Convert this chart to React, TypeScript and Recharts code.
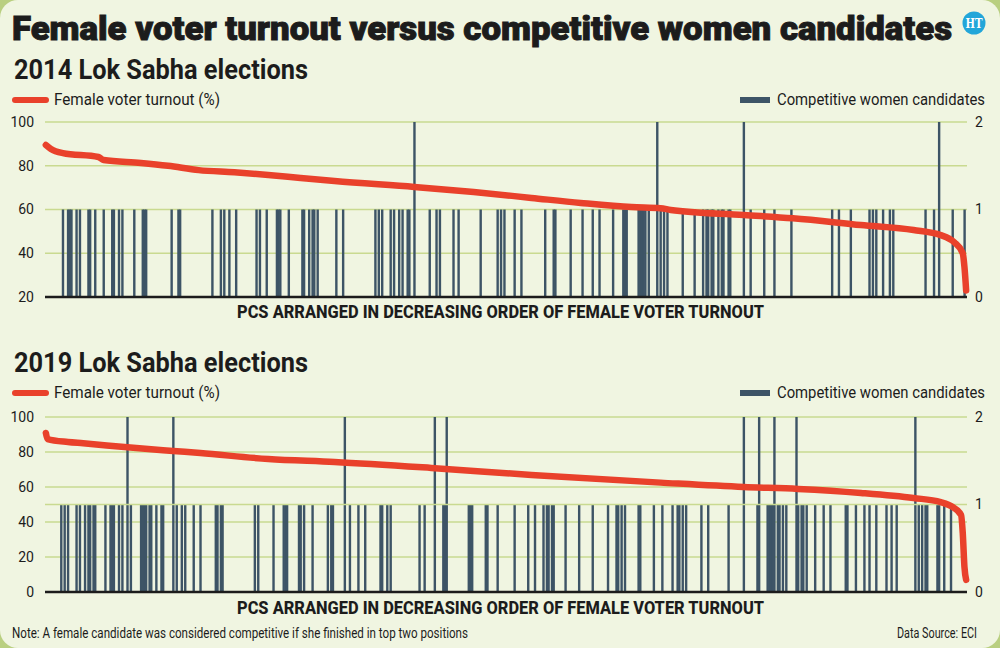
import { ComposedChart, Bar, Line, XAxis, YAxis, CartesianGrid, ReferenceLine } from 'recharts'

// Parliamentary constituencies, ranked 1..N by female voter turnout (highest first)
const PC_COUNT = 543

// 2014: turnout readings at ranked PCs
const TURNOUT_2014_PC = [1, 4, 11, 32, 35, 57, 73, 91, 112, 132, 151, 171, 218, 253, 287, 316, 346, 363, 369, 412, 441, 481, 512, 528, 536, 541, 542, 543]
const TURNOUT_2014 = [89.5, 87.7, 85.8, 84, 82.6, 81.3, 80, 78, 77, 75.8, 74.4, 73, 70.3, 68, 65.3, 63, 61.1, 60.6, 59.8, 57.5, 56, 52.9, 50.6, 48.3, 45, 40, 33.7, 23]

// 2014: PCs with one / two competitive women candidates
const WOMEN_2014_ONE = [
	11, 14, 15, 16, 19, 21, 26, 27, 30, 35, 40, 41, 44, 46, 53, 58, 59, 60, 75, 79, 80, 99, 104, 106, 109, 113, 125, 127, 131,
	137, 138, 139, 144, 152, 153, 156, 158, 159, 161, 172, 176, 195, 197, 199, 204, 206, 209, 211, 214, 215, 227, 231, 233,
	241, 244, 257, 267, 269, 271, 277, 281, 295, 300, 301, 310, 317, 323, 327, 335, 341, 342, 343, 350, 351, 352, 353, 354,
	356, 363, 365, 367, 376, 383, 388, 390, 391, 393, 394, 397, 399, 400, 403, 404, 416, 424, 430, 440, 464, 468, 475, 486,
	488, 490, 494, 498, 500, 519, 524, 535, 542,
]
const WOMEN_2014_TWO = [218, 361, 412, 527]

// 2019: turnout readings at ranked PCs
const TURNOUT_2019_PC = [1, 2, 14, 23, 49, 76, 92, 132, 171, 228, 287, 363, 412, 444, 481, 512, 528, 535, 540, 541, 542, 543]
const TURNOUT_2019 = [90.9, 87.4, 85.7, 85, 82.7, 80.6, 79.4, 76, 74.3, 70.9, 66.9, 62.5, 60, 58.9, 56.6, 53.7, 51.4, 48.6, 44, 33.7, 14.3, 6.9]

// 2019: PCs with one / two competitive women candidates
const WOMEN_2019_ONE = [
	10, 12, 14, 19, 21, 24, 26, 27, 29, 30, 36, 39, 40, 41, 44, 46, 51, 57, 58, 59, 60, 62, 63, 66, 69, 70, 78, 81, 83, 88,
	92, 101, 102, 104, 105, 124, 126, 135, 141, 142, 143, 150, 151, 153, 158, 167, 169, 170, 180, 185, 189, 198, 199, 202,
	204, 221, 224, 235, 236, 250, 251, 252, 260, 261, 267, 277, 285, 289, 294, 296, 297, 299, 300, 307, 315, 323, 332, 337,
	338, 340, 342, 350, 351, 359, 364, 370, 373, 374, 376, 378, 387, 391, 403, 420, 426, 427, 428, 429, 432, 433, 435, 437,
	444, 446, 447, 449, 454, 459, 463, 472, 473, 478, 483, 486, 490, 496, 499, 502, 515, 517, 519, 520, 526, 527, 530, 534,
]
const WOMEN_2019_TWO = [49, 76, 177, 230, 237, 412, 421, 430, 443, 513]

const LEFT_TICKS_2014 = [20, 40, 60, 80, 100]
const LEFT_TICKS_2019 = [0, 20, 40, 60, 80, 100]
const RIGHT_TICKS = [0, 1, 2]

const AXIS_TITLE = 'PCS ARRANGED IN DECREASING ORDER OF FEMALE VOTER TURNOUT'

const RED = '#e9412b'
const SLATE = '#3d5466'
const GRID = '#c9da90'
const INK = '#1c1c1c'
const FONT = 'Roboto, "Open Sans", sans-serif'

type Row = { pc: number; turnout?: number; women?: number }

function buildRows(turnoutPc: number[], turnout: number[], one: number[], two: number[]) {
	const rows: Row[] = []
	for (let pc = 1; pc <= PC_COUNT; pc++) rows.push({ pc })
	turnoutPc.forEach((pc, i) => {
		rows[pc - 1].turnout = turnout[i]
	})
	one.forEach(pc => {
		rows[pc - 1].women = 1
	})
	two.forEach(pc => {
		rows[pc - 1].women = 2
	})
	return rows
}

const rows2014 = buildRows(TURNOUT_2014_PC, TURNOUT_2014, WOMEN_2014_ONE, WOMEN_2014_TWO)
const rows2019 = buildRows(TURNOUT_2019_PC, TURNOUT_2019, WOMEN_2019_ONE, WOMEN_2019_TWO)

// bands are under 2px wide, so draw each bar a touch wider than its band
function ThinBar(props: any) {
	const { x, y, width, height, fill } = props
	if (!height) return null
	return <rect x={x + width / 2 - 1.2} y={y} width={2.4} height={height} fill={fill} />
}

interface PanelProps {
	rows: Row[]
	top: number
	leftMin: number
	leftTicks: number[]
	midLine?: boolean
}

function Panel({ rows, top, leftMin, leftTicks, midLine }: PanelProps) {
	const tick = { fontSize: 14, fill: INK, fontFamily: FONT }
	return (
		<div style={{ position: 'absolute', left: 0, top }}>
			<ComposedChart
				width={1000}
				height={195}
				data={rows}
				margin={{ top: 10, right: 0, left: 0, bottom: 10 }}
				barCategoryGap={0}
			>
				<CartesianGrid yAxisId='left' vertical={false} stroke={GRID} strokeWidth={1.5} />
				<XAxis dataKey='pc' hide />
				<YAxis
					yAxisId='left'
					domain={[leftMin, 100]}
					ticks={leftTicks}
					width={45}
					axisLine={false}
					tickLine={false}
					tickMargin={5}
					tick={tick}
					interval={0}
				/>
				<YAxis
					yAxisId='right'
					orientation='right'
					domain={[0, 2]}
					ticks={RIGHT_TICKS}
					width={33}
					axisLine={false}
					tickLine={false}
					tick={tick}
					interval={0}
				/>
				{midLine && <ReferenceLine yAxisId='right' y={1} stroke={GRID} strokeWidth={1.5} />}
				<Bar yAxisId='right' dataKey='women' fill={SLATE} shape={ThinBar} isAnimationActive={false} />
				<ReferenceLine yAxisId='left' y={leftMin} stroke={INK} strokeWidth={2.5} />
				<Line
					yAxisId='left'
					type='monotone'
					dataKey='turnout'
					stroke={RED}
					strokeWidth={6.5}
					strokeLinecap='round'
					strokeLinejoin='round'
					dot={false}
					activeDot={false}
					connectNulls
					isAnimationActive={false}
				/>
			</ComposedChart>
		</div>
	)
}

// condensed text, squeezed to the given width
function Txt({ x, y, w, size, weight = 400, anchor = 'start', bold = 0, children }: {
	x: number
	y: number
	w: number
	size: number
	weight?: number
	anchor?: 'start' | 'end'
	bold?: number
	children: string
}) {
	return (
		<text
			x={x}
			y={y}
			fontSize={size}
			fontWeight={weight}
			fontFamily={FONT}
			fill={INK}
			stroke={bold ? INK : undefined}
			strokeWidth={bold || undefined}
			textAnchor={anchor}
			textLength={w}
			lengthAdjust='spacingAndGlyphs'
		>
			{children}
		</text>
	)
}

function Legend({ y }: { y: number }) {
	return (
		<g>
			<rect x={12} y={y - 3} width={37} height={6} rx={3} fill={RED} />
			<Txt x={54} y={y + 5} w={166} size={16}>Female voter turnout (%)</Txt>
			<rect x={740} y={y - 3} width={30} height={6} fill={SLATE} />
			<Txt x={777} y={y + 5} w={208} size={16}>Competitive women candidates</Txt>
		</g>
	)
}

export default function App() {
	return (
		<div
			style={{
				position: 'absolute',
				left: 0,
				top: 0,
				width: 1000,
				height: 648,
				background: '#b9cf80',
				overflow: 'hidden',
			}}
		>
			<div style={{ position: 'absolute', inset: 0, background: '#f0f5e1', borderRadius: 18 }} />

			<Panel rows={rows2014} top={112} leftMin={20} leftTicks={LEFT_TICKS_2014} />
			<Panel rows={rows2019} top={407} leftMin={0} leftTicks={LEFT_TICKS_2019} midLine />

			<svg
				width={1000}
				height={648}
				style={{ position: 'absolute', left: 0, top: 0, pointerEvents: 'none' }}
			>
				<Txt x={12} y={40} w={940} size={34} weight={900} bold={1}>
					Female voter turnout versus competitive women candidates
				</Txt>
				<circle cx={974} cy={23} r={11.5} fill='#22a6d9' />
				<text
					x={974}
					y={28}
					fontSize={13}
					fontWeight={700}
					fontFamily='"DejaVu Serif", serif'
					fill='#fff'
					textAnchor='middle'
					textLength={17}
					lengthAdjust='spacingAndGlyphs'
				>
					HT
				</text>

				<Txt x={14} y={79} w={294} size={28} weight={700}>2014 Lok Sabha elections</Txt>
				<Legend y={100} />
				<Txt x={237} y={318} w={527} size={18} weight={800}>{AXIS_TITLE}</Txt>

				<Txt x={14} y={372} w={294} size={28} weight={700}>2019 Lok Sabha elections</Txt>
				<Legend y={393} />
				<Txt x={237} y={614} w={527} size={18} weight={800}>{AXIS_TITLE}</Txt>

				<Txt x={12} y={638} w={456} size={14}>
					Note: A female candidate was considered competitive if she finished in top two positions
				</Txt>
				<Txt x={977} y={638} w={80} size={14} anchor='end'>Data Source: ECI</Txt>
			</svg>
		</div>
	)
}
